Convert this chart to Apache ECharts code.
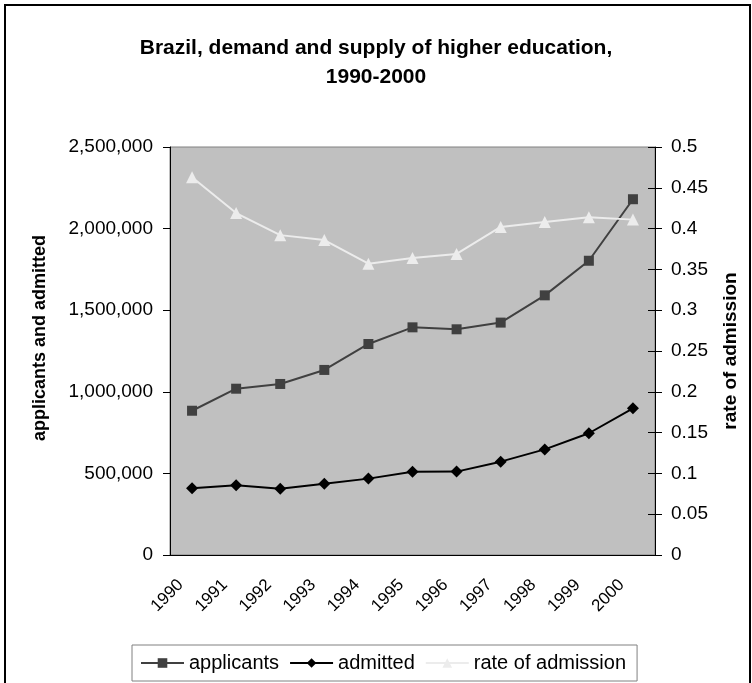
<!DOCTYPE html>
<html>
<head>
<meta charset="utf-8">
<script src="https://cdn.jsdelivr.net/npm/echarts@6/dist/echarts.min.js"></script>
<style>
html,body{margin:0;padding:0;background:#fff;}
#chart{width:752px;height:683px;}
</style>
</head>
<body>
<div id="chart"></div>
<script>
var years = ['1990','1991','1992','1993','1994','1995','1996','1997','1998','1999','2000'];
var applicants = [884000, 1019000, 1048000, 1134000, 1293000, 1395000, 1383000, 1424000, 1591000, 1803000, 2180000];
var admitted = [409000, 427000, 406000, 437000, 468000, 510000, 511000, 572000, 647000, 746000, 899000];
var rateOfAdmission = [0.463, 0.419, 0.392, 0.386, 0.357, 0.364, 0.369, 0.402, 0.408, 0.414, 0.411];
var leftTicks = {min: 0, max: 2500000, interval: 500000};
var rightTicks = {min: 0, max: 0.5, interval: 0.05};

var font = 'Liberation Sans, Arial, sans-serif';
var chart = echarts.init(document.getElementById('chart'), null, {renderer: 'canvas'});
chart.setOption({
  backgroundColor: '#ffffff',
  animation: false,
  textStyle: {fontFamily: font, color: '#000'},
  title: {
    text: 'Brazil, demand and supply of higher education,\n1990-2000',
    left: 'center',
    top: 29,
    textStyle: {fontFamily: font, fontSize: 21, fontWeight: 'bold', color: '#000', lineHeight: 29}
  },
  graphic: [{
    type: 'rect',
    shape: {x: 5, y: 5, width: 745, height: 700},
    style: {fill: 'none', stroke: '#000', lineWidth: 2},
    silent: true
  }],
  grid: {
    left: 170, right: 97, top: 147, bottom: 128,
    show: true, backgroundColor: '#c0c0c0', borderColor: '#808080', borderWidth: 1
  },
  legend: {
    left: 132, top: 645,
    padding: [8, 11, 8, 8],
    borderColor: '#808080', borderWidth: 1,
    itemWidth: 43, itemHeight: 12, itemGap: 10,
    textStyle: {fontFamily: font, fontSize: 20, color: '#000'},
    data: ['applicants', 'admitted', 'rate of admission']
  },
  xAxis: {
    type: 'category',
    data: years,
    boundaryGap: true,
    axisLine: {lineStyle: {color: '#000', width: 1}},
    axisTick: {length: 6, lineStyle: {color: '#000'}},
    axisLabel: {rotate: 45, fontSize: 17, color: '#000', fontFamily: font, margin: 16,
      padding: [0, 16, 0, 0], interval: 0},
    splitLine: {show: false}
  },
  yAxis: [{
    type: 'value',
    position: 'left',
    min: leftTicks.min, max: leftTicks.max, interval: leftTicks.interval,
    name: 'applicants and admitted',
    nameLocation: 'middle',
    nameGap: 121,
    nameTextStyle: {fontFamily: font, fontSize: 18, fontWeight: 'bold', color: '#000', padding: [0, 0, 0, 26]},
    axisLine: {show: true, lineStyle: {color: '#000', width: 1}},
    axisTick: {show: true, length: 7, lineStyle: {color: '#000'}},
    axisLabel: {fontSize: 19, color: '#000', fontFamily: font, margin: 17,
      formatter: function (v) { return v.toLocaleString('en-US'); }},
    splitLine: {show: false}
  }, {
    type: 'value',
    position: 'right',
    min: rightTicks.min, max: rightTicks.max, interval: rightTicks.interval,
    name: 'rate of admission',
    nameLocation: 'middle',
    nameGap: 66,
    nameRotate: 90,
    nameTextStyle: {fontFamily: font, fontSize: 19, fontWeight: 'bold', color: '#000'},
    axisLine: {show: true, lineStyle: {color: '#000', width: 1}},
    axisTick: {show: true, length: 7, lineStyle: {color: '#000'}},
    axisLabel: {fontSize: 19, color: '#000', fontFamily: font, margin: 16},
    splitLine: {show: false}
  }, {
    type: 'value',
    position: 'right',
    min: rightTicks.min, max: rightTicks.max, interval: rightTicks.interval,
    axisLine: {show: false},
    axisTick: {show: true, inside: true, length: 7, lineStyle: {color: '#000'}},
    axisLabel: {show: false},
    splitLine: {show: false}
  }],
  series: [{
    name: 'applicants',
    type: 'line',
    data: applicants,
    yAxisIndex: 0,
    symbol: 'rect', symbolSize: 10,
    lineStyle: {color: '#404040', width: 2},
    itemStyle: {color: '#404040'}
  }, {
    name: 'admitted',
    type: 'line',
    data: admitted,
    yAxisIndex: 0,
    symbol: 'diamond', symbolSize: 12,
    lineStyle: {color: '#000', width: 2},
    itemStyle: {color: '#000'}
  }, {
    name: 'rate of admission',
    type: 'line',
    data: rateOfAdmission,
    yAxisIndex: 1,
    symbol: 'triangle', symbolSize: 12,
    lineStyle: {color: '#ececec', width: 2},
    itemStyle: {color: '#ececec'}
  }]
});
</script>
</body>
</html>
